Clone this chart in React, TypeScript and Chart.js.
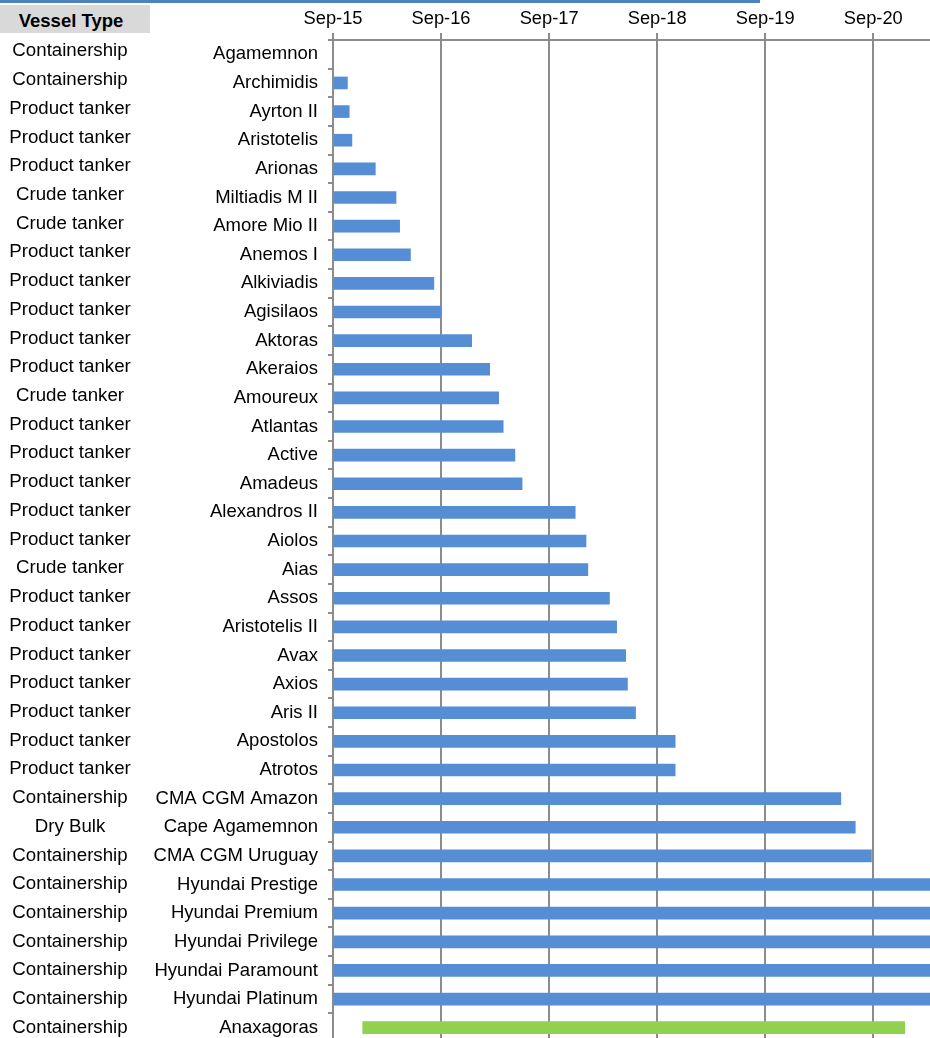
import React, { useEffect, useRef } from "react";
import { Chart, registerables } from "chart.js";

Chart.register(...registerables);

// months counted from Sep-15
const vesselNames = [
  "Agamemnon", "Archimidis", "Ayrton II", "Aristotelis", "Arionas", "Miltiadis M II",
  "Amore Mio II", "Anemos I", "Alkiviadis", "Agisilaos", "Aktoras", "Akeraios",
  "Amoureux", "Atlantas", "Active", "Amadeus", "Alexandros II", "Aiolos", "Aias",
  "Assos", "Aristotelis II", "Avax", "Axios", "Aris II", "Apostolos", "Atrotos",
  "CMA CGM Amazon", "Cape Agamemnon", "CMA CGM Uruguay", "Hyundai Prestige",
  "Hyundai Premium", "Hyundai Privilege", "Hyundai Paramount", "Hyundai Platinum",
  "Anaxagoras",
];

const vesselTypes = [
  "Containership", "Containership", "Product tanker", "Product tanker", "Product tanker",
  "Crude tanker", "Crude tanker", "Product tanker", "Product tanker", "Product tanker",
  "Product tanker", "Product tanker", "Crude tanker", "Product tanker", "Product tanker",
  "Product tanker", "Product tanker", "Product tanker", "Crude tanker", "Product tanker",
  "Product tanker", "Product tanker", "Product tanker", "Product tanker", "Product tanker",
  "Product tanker", "Containership", "Dry Bulk", "Containership", "Containership",
  "Containership", "Containership", "Containership", "Containership", "Containership",
];

const charterStart = [
  0, 0, 0, 0, 0, 0, 0, 0, 0, 0, 0, 0, 0, 0, 0, 0, 0, 0, 0, 0, 0, 0, 0, 0, 0, 0,
  0, 0, 0, 0, 0, 0, 0, 0, 3.3,
];

const charterEnd = [
  0, 1.6, 1.8, 2.1, 4.7, 7.0, 7.4, 8.6, 11.2, 12.0, 15.4, 17.4, 18.4, 18.9, 20.2, 21.0,
  26.9, 28.1, 28.3, 30.7, 31.5, 32.5, 32.7, 33.6, 38.0, 38.0, 56.4, 58.0, 59.8,
  72, 72, 72, 72, 72, 63.5,
];

const tickLabels = ["Sep-15", "Sep-16", "Sep-17", "Sep-18", "Sep-19", "Sep-20"];

const FONT = "'Liberation Sans', Arial, sans-serif";
const GRID = "#8c8c8c";

export default function App() {
  const ref = useRef<HTMLCanvasElement | null>(null);

  useEffect(() => {
    if (!ref.current) return;
    const typePlugin = {
      id: "vesselTypes",
      afterDraw(chart: any) {
        const ctx = chart.ctx;
        const y = chart.scales.y;
        ctx.save();
        ctx.font = `18.7px ${FONT}`;
        ctx.fillStyle = "#000";
        ctx.textAlign = "center";
        ctx.textBaseline = "middle";
        vesselTypes.forEach((t, i) => {
          const py = y.getPixelForValue(i) - 3 + (i / (vesselTypes.length - 1)) * 3;
          ctx.fillText(t, 70, py);
        });
        ctx.restore();
      },
    };
    const chart = new Chart(ref.current, {
      type: "bar",
      data: {
        labels: vesselNames,
        datasets: [
          {
            label: "Charter",
            data: charterStart.map((s, i) => [s, charterEnd[i]]) as any,
            backgroundColor: (c: any) =>
              c.dataIndex === vesselNames.length - 1 ? "#92d050" : "#558ed5",
            borderWidth: 0,
            barThickness: 12,
          },
        ],
      },
      options: {
        indexAxis: "y",
        animation: false,
        responsive: false,
        maintainAspectRatio: false,
        layout: { padding: 0 },
        plugins: { legend: { display: false }, tooltip: { enabled: false } },
        scales: {
          x: {
            type: "linear",
            position: "top",
            min: 0,
            max: 66.3,
            afterFit: (s: any) => {
              s.height = 40;
            },
            afterBuildTicks: (s: any) => {
              s.ticks = tickLabels.map((_, i) => ({ value: i * 12 }));
            },
            ticks: {
              callback: (v: any) => tickLabels[Math.round(Number(v) / 12)],
              font: { family: FONT, size: 18.3 },
              color: "#000",
              padding: 3,
              maxRotation: 0,
              autoSkip: false,
            },
            grid: { color: GRID, lineWidth: 2, tickLength: 7, drawOnChartArea: true },
            border: { display: true, color: GRID, width: 2 },
          },
          y: {
            type: "category",
            position: "left",
            afterFit: (s: any) => {
              s.width = 333;
              s.paddingBottom = 0;
              s.paddingTop = 0;
            },
            ticks: {
              font: { family: FONT, size: 18.5 },
              color: "#000",
              padding: 10,
              autoSkip: false,
            },
            grid: { offset: true, drawOnChartArea: false, color: GRID, lineWidth: 2, tickLength: 5 },
            border: { display: true, color: GRID, width: 2 },
          },
        },
      },
      plugins: [typePlugin],
    });
    return () => chart.destroy();
  }, []);

  return (
    <div
      style={{
        position: "absolute",
        left: 0,
        top: 0,
        width: 930,
        height: 1038,
        overflow: "hidden",
        background: "#fff",
      }}
    >
      <div
        style={{
          position: "absolute",
          left: 0,
          top: 0,
          width: 760,
          height: 3,
          background: "#4f81bd",
        }}
      />
      <div
        style={{
          position: "absolute",
          left: 0,
          top: 5,
          width: 150,
          height: 28,
          background: "#d9d9d9",
          fontFamily: FONT,
          fontWeight: "bold",
          fontSize: 18.5,
          lineHeight: "32px",
          textAlign: "center",
          color: "#000",
          zIndex: 2,
        }}
      >
        <span style={{ position: "relative", left: -4 }}>Vessel Type</span>
      </div>
      <canvas
        ref={ref}
        width={930}
        height={1042}
        style={{ position: "absolute", left: 0, top: 0, width: 930, height: 1042 }}
      />
    </div>
  );
}
